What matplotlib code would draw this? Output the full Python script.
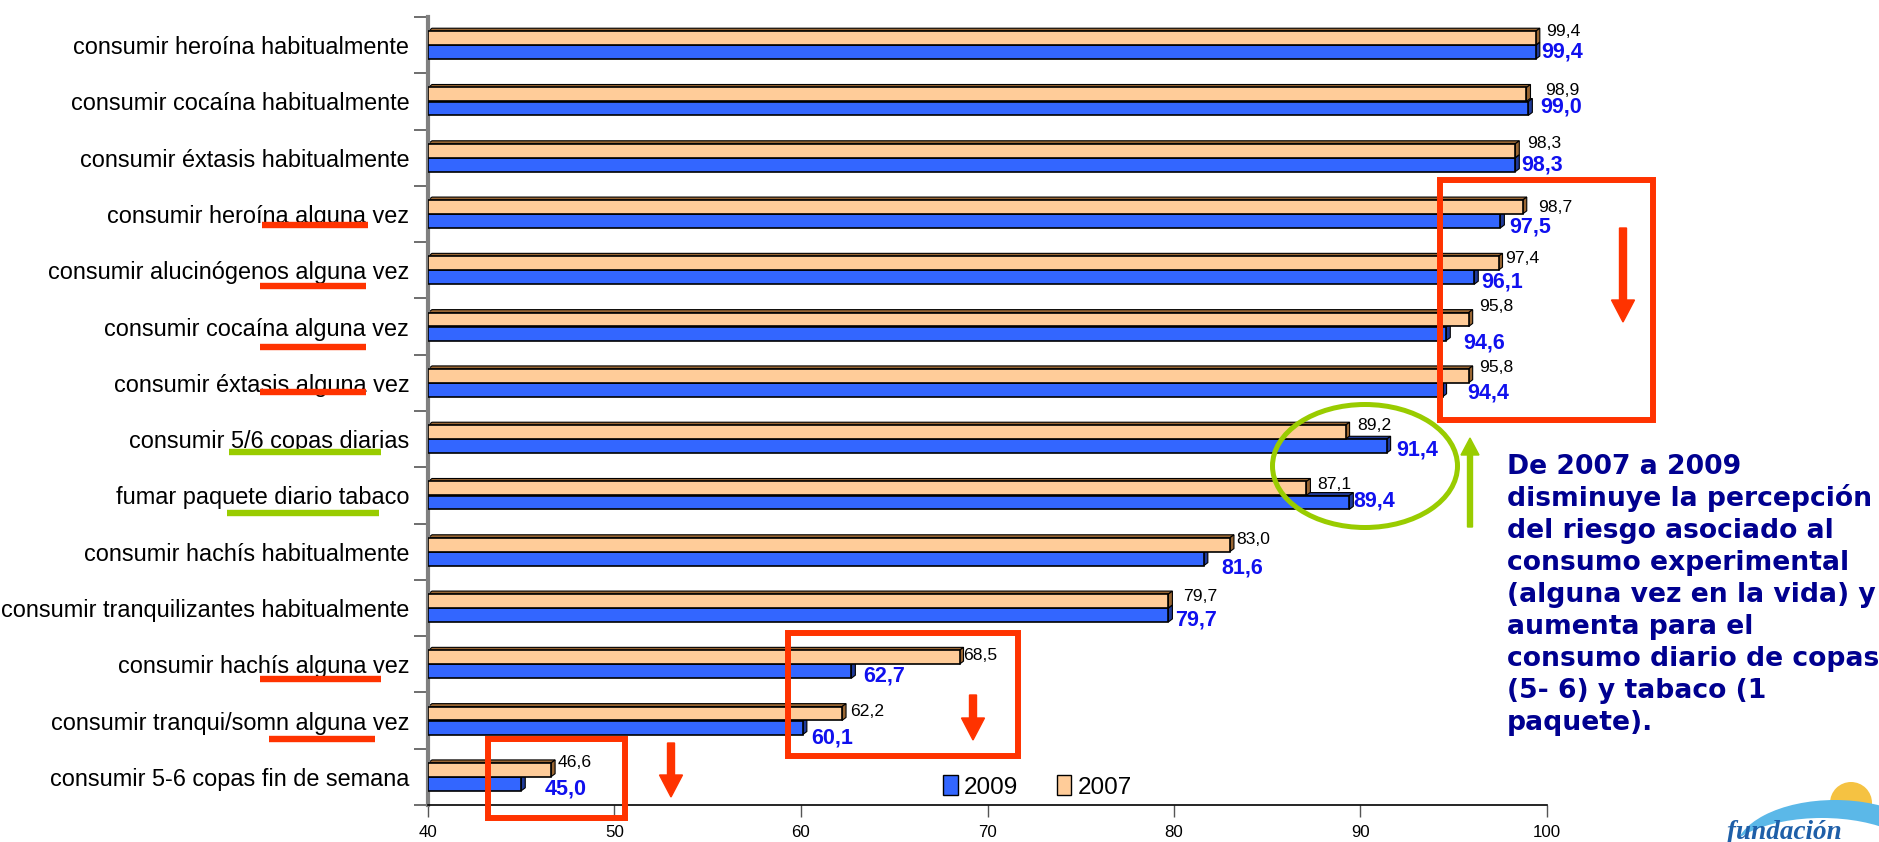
import numpy as np
import matplotlib
matplotlib.use("Agg")
import matplotlib.pyplot as plt
from matplotlib.patches import Polygon, Rectangle, Ellipse, Patch

# -----------------------------
# Data
# -----------------------------
categories = [
    "consumir heroína habitualmente",
    "consumir cocaína habitualmente",
    "consumir éxtasis habitualmente",
    "consumir heroína alguna vez",
    "consumir alucinógenos alguna vez",
    "consumir cocaína alguna vez",
    "consumir éxtasis alguna vez",
    "consumir 5/6 copas diarias",
    "fumar paquete diario tabaco",
    "consumir hachís habitualmente",
    "consumir tranquilizantes habitualmente",
    "consumir hachís alguna vez",
    "consumir tranqui/somn alguna vez",
    "consumir 5-6 copas fin de semana",
]
v2009 = [99.4, 99.0, 98.3, 97.5, 96.1, 94.6, 94.4, 91.4, 89.4, 81.6, 79.7, 62.7, 60.1, 45.0]
v2007 = [99.4, 98.9, 98.3, 98.7, 97.4, 95.8, 95.8, 89.2, 87.1, 83.0, 79.7, 68.5, 62.2, 46.6]
xticks = [40, 50, 60, 70, 80, 90, 100]

note_lines = [
    "De 2007 a 2009",
    "disminuye la percepción",
    "del riesgo asociado al",
    "consumo experimental",
    "(alguna vez en la vida) y",
    "aumenta para el",
    "consumo diario de copas",
    "(5- 6) y tabaco (1",
    "paquete).",
]

# label offsets in pixels (from bar end / category centre), as placed in the original
off07_x = [10, 19, 12, 15, 7, 10, 10, 12, 11, 6, 15, 4, 8, 7]
off07_y = [-14, -11, -14, -7, -12, -20, -15, -14, -11, -12, -12, -9, -9, -14]
off09_x = [5, 12, 6, 9, 7, 17, 25, 10, 4, 18, 7, 12, 8, 23]
off09_y = [7, 6, 7, 13, 12, 16, 10, 11, 6, 16, 12, 12, 17, 12]

C09 = "#3366FF"
C07 = "#FFCC99"
SIDE09 = "#1F3A99"
SIDE07 = "#996633"
RED = "#FF3300"
GREEN = "#99CC00"

plt.rcParams["font.family"] = ["Liberation Sans", "DejaVu Sans"]

W, H = 1879, 842
fig = plt.figure(figsize=(W / 100, H / 100), dpi=100)
ax = fig.add_axes([428 / W, 1 - 805 / H, (1547 - 428) / W, (805 - 17) / H])

n = len(categories)
pos = np.arange(n)
bh = 0.245
dx = 4 / 18.65   # depth in data units (x)
dy = 3 / 56.3    # depth in data units (y)


def bar3d(yc, val, face, side):
    top = yc - bh / 2
    bot = yc + bh / 2
    ax.add_patch(Polygon([(40, top), (val, top), (val + dx, top - dy), (40 + dx, top - dy)],
                         closed=True, fc=side, ec="black", lw=0.8, zorder=2))
    ax.add_patch(Polygon([(val, top), (val + dx, top - dy), (val + dx, bot - dy), (val, bot)],
                         closed=True, fc=side, ec="black", lw=0.8, zorder=2))
    ax.add_patch(Rectangle((40, top), val - 40, bh, fc=face, ec="black", lw=1.2, zorder=3))


for i in range(n):
    bar3d(pos[i] + 0.125, v2009[i], C09, SIDE09)
    bar3d(pos[i] - 0.125, v2007[i], C07, SIDE07)

for i in range(n):
    ax.annotate(f"{v2007[i]:.1f}".replace(".", ","), xy=(v2007[i], pos[i]),
                xytext=(off07_x[i], -off07_y[i]), textcoords="offset pixels",
                ha="left", va="center", fontsize=12.6, color="black", zorder=5)
    ax.annotate(f"{v2009[i]:.1f}".replace(".", ","), xy=(v2009[i], pos[i]),
                xytext=(off09_x[i], -off09_y[i]), textcoords="offset pixels",
                ha="left", va="center", fontsize=15.5, fontweight="bold",
                color="#1010EE", zorder=5)

ax.set_xlim(40, 100)
ax.set_ylim(n - 0.5, -0.5)
ax.set_xticks(xticks)
ax.set_yticks(pos, categories, fontsize=16.9)
ax.set_yticks(np.arange(-0.5, n, 1), minor=True)
ax.tick_params(axis="y", which="major", length=0, pad=13.5)
ax.tick_params(axis="y", which="minor", length=10, width=1.2, color="#555555")
ax.tick_params(axis="x", length=8.5, width=1.0, color="#555555", labelsize=12.2, pad=6)
for s in ["top", "right"]:
    ax.spines[s].set_visible(False)
ax.spines["left"].set_color("#808080")
ax.spines["left"].set_linewidth(3)
ax.spines["bottom"].set_color("black")
ax.spines["bottom"].set_linewidth(1.2)
ax.patch.set_alpha(0)

handles = [Patch(fc=C09, ec="black", label="2009"), Patch(fc=C07, ec="black", label="2007")]
fig.legend(handles=handles, loc="center left", bbox_to_anchor=(943 / W, 1 - 787 / H),
           ncol=2, frameon=False, fontsize=17.5, handlelength=0.6, handleheight=0.9,
           handletextpad=0.25, columnspacing=1.6, borderpad=0, borderaxespad=0)

# -----------------------------
# Overlay: boxes, arrows, notes, logo (pixel coords)
# -----------------------------
ov = fig.add_axes([0, 0, 1, 1])
ov.set_xlim(0, W)
ov.set_ylim(H, 0)
ov.axis("off")
ov.patch.set_alpha(0)

for (x0, y0, x1, y1) in [(1440, 180, 1653, 420), (788, 633, 1018, 756), (488, 739, 625, 818)]:
    ov.add_patch(Rectangle((x0, y0), x1 - x0, y1 - y0, fill=False, ec=RED, lw=4.3))

for (xa, ya, yb) in [(1623, 228, 322), (973, 695, 740), (671, 743, 797)]:
    ov.arrow(xa, ya, 0, yb - ya, width=7, head_width=23, head_length=22,
             length_includes_head=True, fc=RED, ec=RED)

ov.add_patch(Ellipse((1365, 466), 185, 123, fill=False, ec=GREEN, lw=3.6))
ov.arrow(1470, 527, 0, -89, width=5, head_width=18, head_length=17,
         length_includes_head=True, fc=GREEN, ec=GREEN)

for (x0, x1, yy) in [(262, 368, 225), (260, 366, 286), (260, 366, 347), (260, 366, 392),
                     (260, 381, 679), (269, 375, 739)]:
    ov.plot([x0, x1], [yy, yy], color=RED, lw=4.6, solid_capstyle="butt")
for (x0, x1, yy) in [(229, 381, 452), (227, 379, 513)]:
    ov.plot([x0, x1], [yy, yy], color=GREEN, lw=4.6, solid_capstyle="butt")

for k, line in enumerate(note_lines):
    ov.text(1507, 474 + 32 * k, line, fontsize=19.2, fontweight="bold", color="#000090",
            family="DejaVu Sans", ha="left", va="baseline")

# logo
ov.add_patch(Ellipse((1851, 803), 42, 42, fc="#F5C242", ec="none"))
ov.add_patch(Ellipse((1835, 852), 200, 104, fc="#5BB8E8", ec="none"))
ov.add_patch(Ellipse((1822, 866), 205, 96, fc="white", ec="none"))
ov.text(1727, 839, "fundación", fontsize=19.5, style="italic", fontweight="bold",
        color="#1F5FA8", family="Liberation Serif", ha="left", va="baseline")

fig.savefig("out.png", dpi=100)
